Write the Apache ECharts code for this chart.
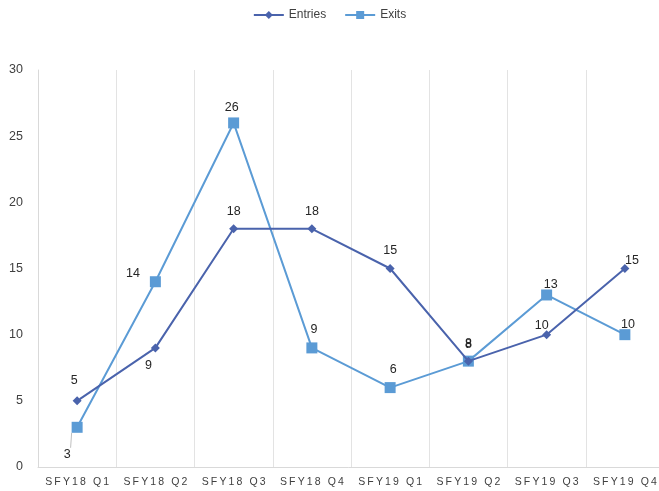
<!DOCTYPE html>
<html><head><meta charset="utf-8">
<script src="https://cdn.jsdelivr.net/npm/echarts@6/dist/echarts.min.js"></script>
<style>html,body{margin:0;padding:0;background:#fff}#c{width:659px;height:491px}</style>
</head><body><div id="c"></div>
<script>
const categories = ["SFY18 Q1","SFY18 Q2","SFY18 Q3","SFY18 Q4","SFY19 Q1","SFY19 Q2","SFY19 Q3","SFY19 Q4"];
const entries = [5, 9, 18, 18, 15, 8, 10, 15];
const exits = [3, 14, 26, 9, 6, 8, 13, 10];
const yTicks = [0, 5, 10, 15, 20, 25, 30];

const entryLabelPos = [
  {position:'top', offset:[-3,-4], labelLine:true},
  {position:'bottom', offset:[-7,2]},
  {position:'top', offset:[0,-1]},
  {position:'top', offset:[0,-1]},
  {position:'top', offset:[0,-2]},
  {position:'top', offset:[0,-1]},
  {position:'top', offset:[-5,7]},
  {position:'top', offset:[7,8]}
];
const exitLabelPos = [
  {position:'bottom', offset:[-10,10], labelLine:true},
  {position:'left', offset:[-5,-8], labelLine:true},
  {position:'top', offset:[-2,2]},
  {position:'top', offset:[2,-1]},
  {position:'top', offset:[3,-1]},
  {position:'top', offset:[0,-1]},
  {position:'top', offset:[4,7]},
  {position:'top', offset:[3,7]}
];
function build(vals, pos){
  return vals.map((v,i)=>({
    value: v,
    label: {position: pos[i].position, offset: pos[i].offset},
    labelLine: {show: !!pos[i].labelLine, lineStyle:{color:'#bfbfbf', width:1}}
  }));
}
const chart = echarts.init(document.getElementById('c'));
const fmtCat = s => s.split('').join('\u2009');
chart.setOption({
  animation: false,
  legend: {
    top: 4, left: 'center', itemWidth: 30, itemHeight: 10, itemGap: 18,
    textStyle: {fontFamily: 'Liberation Sans', fontSize: 12, color: '#404040'},
    data: ['Entries','Exits']
  },
  grid: {left: 38, width: 626, top: 70, bottom: 24, containLabel: false, outerBoundsMode: 'none'},
  xAxis: {
    type: 'category', data: categories, boundaryGap: true,
    axisLine: {lineStyle: {color: '#d9d9d9'}},
    axisTick: {show: false},
    splitLine: {show: true, lineStyle: {color: '#e3e3e3'}},
    axisLabel: {formatter: fmtCat, fontFamily: 'Liberation Sans', fontSize: 10.5, color: '#404040', margin: 10, interval: 0}
  },
  yAxis: {
    type: 'value', min: yTicks[0], max: yTicks[yTicks.length-1], interval: 5,
    axisLine: {show: true, lineStyle: {color: '#d9d9d9'}},
    axisTick: {show: false},
    splitLine: {show: false},
    axisLabel: {fontFamily: 'Liberation Sans', fontSize: 12.5, color: '#404040', margin: 15}
  },
  series: [
    {
      name: 'Entries', type: 'line', data: build(entries, entryLabelPos),
      symbol: 'diamond', symbolSize: 9,
      itemStyle: {color: '#4a63ac'}, lineStyle: {color: '#4a63ac', width: 2},
      label: {show: true, fontFamily: 'Liberation Sans', fontSize: 12.5, color: '#262626'},
      z: 3
    },
    {
      name: 'Exits', type: 'line', data: build(exits, exitLabelPos),
      symbol: 'rect', symbolSize: 11,
      itemStyle: {color: '#5b9bd5'}, lineStyle: {color: '#5b9bd5', width: 2},
      label: {show: true, fontFamily: 'Liberation Sans', fontSize: 12.5, color: '#262626'},
      z: 2
    }
  ]
});
</script></body></html>
